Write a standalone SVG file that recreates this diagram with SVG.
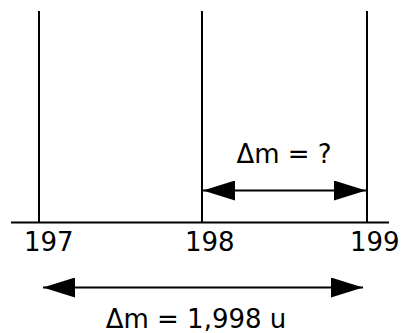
<svg xmlns="http://www.w3.org/2000/svg" width="406" height="333" viewBox="0 0 406 333">
<style>
.ln{stroke:#000;stroke-width:2;fill:none}
.t{font-family:"DejaVu Sans",sans-serif;font-size:26px;fill:#000}
</style>
<defs>
<marker id="ah" viewBox="0 0 32 20" refX="32" refY="10" markerWidth="32" markerHeight="20" markerUnits="userSpaceOnUse" orient="auto-start-reverse">
<path d="M0,0 L32,10 L0,20 Z" fill="#000"/>
</marker>
</defs>
<rect width="406" height="333" fill="#fff"/>
<g id="axis">
<line class="ln" x1="11" y1="222.5" x2="389" y2="222.5"/>
</g>
<g id="line197">
<line class="ln" x1="39" y1="11" x2="39" y2="222.5"/>
<text class="t" x="24" y="251">197</text>
</g>
<g id="line198">
<line class="ln" x1="202" y1="11" x2="202" y2="222.5"/>
<text class="t" x="185" y="251">198</text>
</g>
<g id="line199">
<line class="ln" x1="367" y1="11" x2="367" y2="222.5"/>
<text class="t" x="350" y="251">199</text>
</g>
<g id="connectors">
<line class="ln" x1="203" y1="190.5" x2="366" y2="190.5" marker-start="url(#ah)" marker-end="url(#ah)"/>
<line class="ln" x1="43" y1="287.5" x2="363" y2="287.5" marker-start="url(#ah)" marker-end="url(#ah)"/>
</g>
<g id="labels">
<text class="t" x="284" y="163" text-anchor="middle">Δm = ?</text>
<text class="t" x="196" y="327.5" text-anchor="middle">Δm = 1,998 u</text>
</g>
</svg>
